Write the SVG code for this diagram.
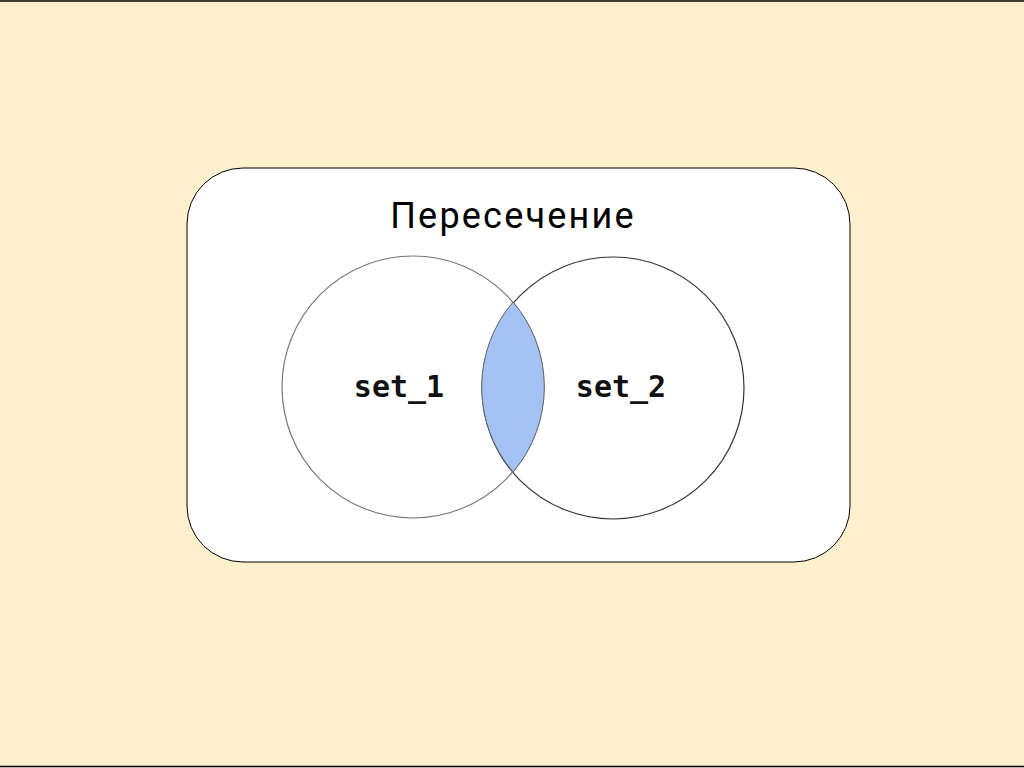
<svg xmlns="http://www.w3.org/2000/svg" width="1024" height="768" viewBox="0 0 1024 768">
<style>
.title{font-family:Roboto,"Liberation Sans",sans-serif;font-size:36px;fill:#000;letter-spacing:2.2px}
.lbl{font-family:"DejaVu Sans Mono","Liberation Mono",monospace;font-size:30px;font-weight:bold;fill:#111}
</style>
<rect x="0" y="0" width="1024" height="768" fill="#fff0cd"/>
<line x1="0" y1="1" x2="1024" y2="1" stroke="#000" stroke-width="1.5"/>
<line x1="0" y1="766.5" x2="1024" y2="766.5" stroke="#000" stroke-width="1.5"/>
<g id="frame">
<rect x="187" y="168" width="663" height="394" rx="56" ry="56" fill="#fff" stroke="#000" stroke-width="1"/>
<text class="title" x="513" y="228" text-anchor="middle">Пересечение</text>
</g>
<g id="set_2">
<circle cx="613" cy="388" r="131" fill="none" stroke="#333" stroke-width="1.2"/>
<text class="lbl" x="621" y="397" text-anchor="middle">set_2</text>
</g>
<g id="set_1">
<circle cx="413" cy="387" r="131" fill="none" stroke="#777" stroke-width="1.2"/>
<text class="lbl" x="399" y="397" text-anchor="middle">set_1</text>
</g>
<g id="intersection">
<path d="M513 302 A131 131 0 0 1 513 472 A131 131 0 0 1 513 302 Z" fill="#a4c2f4" stroke="#666" stroke-width="1"/>
</g>
</svg>
